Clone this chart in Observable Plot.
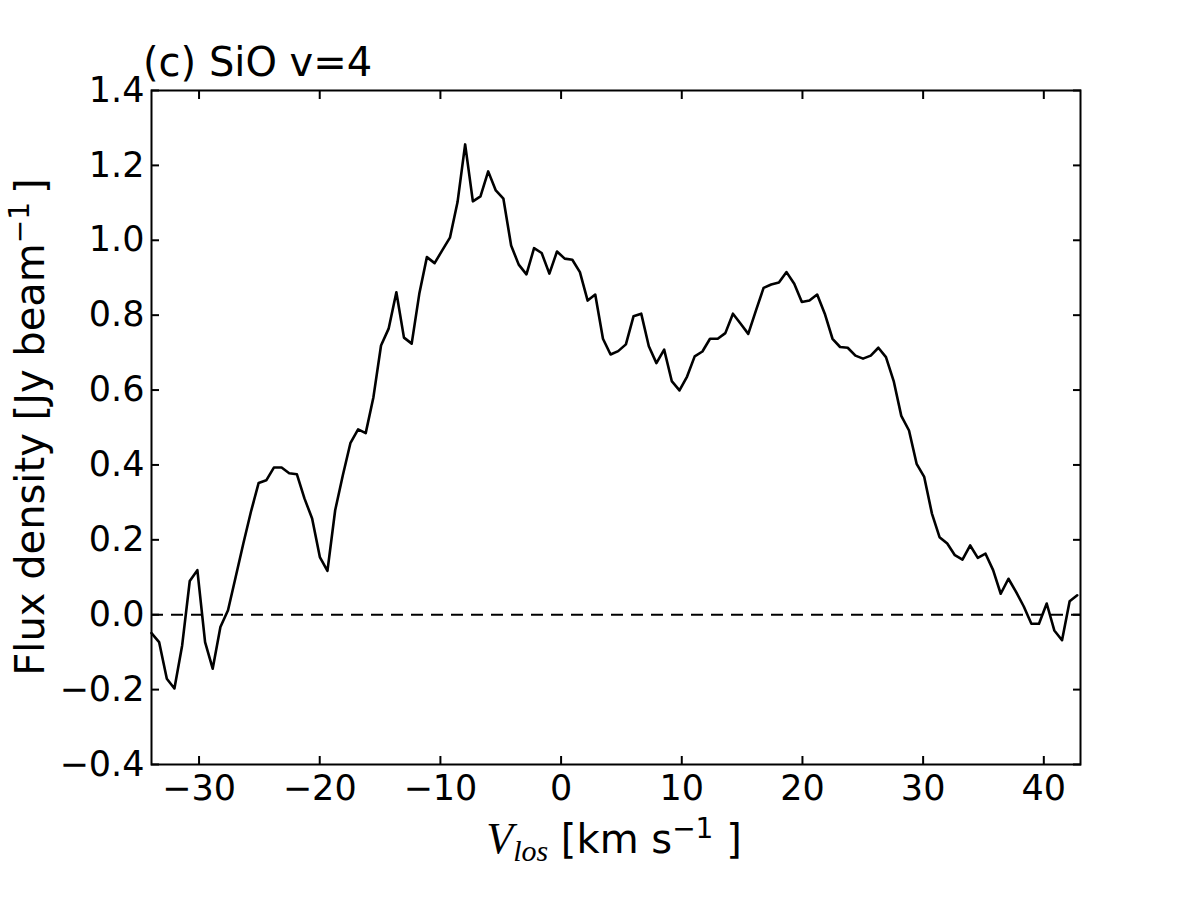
<!DOCTYPE html>
<html>
<head>
<meta charset="utf-8">
<script src="https://cdn.jsdelivr.net/npm/d3@7"></script>
<script src="https://cdn.jsdelivr.net/npm/@observablehq/plot@0.6"></script>
<style>
  body { margin: 0; background: #fff; }
  svg text { white-space: pre; }
</style>
</head>
<body>
<div id="chart"></div>
<script>
// Spectrum of SiO v=4: line-of-sight velocity channels (km/s) and flux density (Jy/beam)
const velocity = [
  -33.94, -33.31, -32.67, -32.04, -31.40, -30.77, -30.14, -29.50, -28.87, -28.23,
  -27.60, -26.97, -26.33, -25.70, -25.06, -24.43, -23.80, -23.16, -22.53, -21.89,
  -21.26, -20.63, -19.99, -19.36, -18.72, -18.09, -17.46, -16.82, -16.19, -15.55,
  -14.92, -14.29, -13.65, -13.02, -12.38, -11.75, -11.12, -10.48, -9.85, -9.21,
  -8.58, -7.95, -7.31, -6.68, -6.04, -5.41, -4.78, -4.14, -3.51, -2.87,
  -2.24, -1.61, -0.97, -0.34, 0.30, 0.93, 1.56, 2.20, 2.83, 3.47,
  4.10, 4.73, 5.37, 6.00, 6.64, 7.27, 7.90, 8.54, 9.17, 9.81,
  10.44, 11.07, 11.71, 12.34, 12.98, 13.61, 14.24, 14.88, 15.51, 16.15,
  16.78, 17.41, 18.05, 18.68, 19.32, 19.95, 20.58, 21.22, 21.85, 22.49,
  23.12, 23.75, 24.39, 25.02, 25.66, 26.29, 26.92, 27.56, 28.19, 28.83,
  29.46, 30.09, 30.73, 31.36, 32.00, 32.63, 33.26, 33.90, 34.53, 35.17,
  35.80, 36.43, 37.07, 37.70, 38.34, 38.97, 39.60, 40.24, 40.87, 41.51,
  42.14, 42.77
];
const flux = [
  -0.049, -0.073, -0.171, -0.197, -0.082, 0.090, 0.119, -0.073, -0.144, -0.033,
  0.012, 0.100, 0.190, 0.275, 0.352, 0.359, 0.393, 0.393, 0.378, 0.375,
  0.310, 0.257, 0.154, 0.117, 0.279, 0.372, 0.458, 0.495, 0.485, 0.581,
  0.719, 0.764, 0.861, 0.740, 0.724, 0.857, 0.955, 0.939, 0.973, 1.007,
  1.102, 1.256, 1.104, 1.117, 1.184, 1.133, 1.111, 0.986, 0.935, 0.909,
  0.979, 0.966, 0.911, 0.970, 0.951, 0.948, 0.915, 0.839, 0.855, 0.737,
  0.695, 0.704, 0.722, 0.797, 0.804, 0.717, 0.672, 0.708, 0.624, 0.599,
  0.636, 0.690, 0.703, 0.737, 0.737, 0.752, 0.804, 0.777, 0.750, 0.813,
  0.873, 0.882, 0.887, 0.915, 0.884, 0.835, 0.839, 0.855, 0.804, 0.737,
  0.715, 0.713, 0.692, 0.684, 0.692, 0.713, 0.688, 0.624, 0.531, 0.492,
  0.403, 0.368, 0.270, 0.207, 0.190, 0.159, 0.147, 0.185, 0.152, 0.163,
  0.119, 0.056, 0.096, 0.061, 0.022, -0.024, -0.024, 0.030, -0.042, -0.068,
  0.036, 0.052
];
const xTicks = [-30, -20, -10, 0, 10, 20, 30, 40];
const yTicks = [-0.4, -0.2, 0.0, 0.2, 0.4, 0.6, 0.8, 1.0, 1.2, 1.4];
const xDomain = [-33.94, 43.04];
const yDomain = [-0.4, 1.4];
const titleText = "(c) SiO v=4";

const data = velocity.map((v, i) => ({v, f: flux[i]}));
const fmtX = d3.format("d");
const fmtY = d3.format(".1f");
const blank = () => "";

const plot = Plot.plot({
  width: 1200,
  height: 900,
  marginLeft: 151,
  marginRight: 120,
  marginTop: 90,
  marginBottom: 136,
  style: {fontFamily: "DejaVu Sans", fontSize: "35px", background: "#fff", color: "#000", overflow: "visible"},
  x: {domain: xDomain},
  y: {domain: yDomain},
  marks: [
    Plot.ruleY([0], {stroke: "#000", strokeWidth: 2, strokeDasharray: "12,8"}),
    Plot.line(data, {x: "v", y: "f", stroke: "#000", strokeWidth: 2.6}),
    // inward tick marks on all four sides
    Plot.axisX(xTicks, {anchor: "bottom", tickSize: -8, tickFormat: blank, label: null, strokeWidth: 2}),
    Plot.axisX(xTicks, {anchor: "top", tickSize: -8, tickFormat: blank, label: null, strokeWidth: 2}),
    Plot.axisY(yTicks, {anchor: "left", tickSize: -8, tickFormat: blank, label: null, strokeWidth: 2}),
    Plot.axisY(yTicks, {anchor: "right", tickSize: -8, tickFormat: blank, label: null, strokeWidth: 2}),
    // tick labels
    Plot.axisX(xTicks, {anchor: "bottom", tickSize: 0, tickPadding: 11, tickFormat: fmtX, label: null, fontSize: 35}),
    Plot.axisY(yTicks, {anchor: "left", tickSize: 0, tickPadding: 7, tickFormat: fmtY, label: null, fontSize: 35}),
    Plot.frame({stroke: "#000", strokeWidth: 2})
  ]
});

const svg = d3.select(plot);

// panel title
svg.append("text")
  .attr("x", 143).attr("y", 76)
  .attr("text-anchor", "start")
  .attr("font-size", 40).attr("fill", "#000")
  .text(titleText);

// x-axis label: V_los [km s^-1 ]
const xl = svg.append("text")
  .attr("x", 614).attr("y", 853)
  .attr("text-anchor", "middle")
  .attr("font-size", 40).attr("fill", "#000");
xl.append("tspan").attr("font-family", "Liberation Serif").attr("font-style", "italic").attr("font-size", 44).text("V");
xl.append("tspan").attr("font-family", "Liberation Serif").attr("font-style", "italic").attr("font-size", 30).attr("dy", 8).text("los");
xl.append("tspan").attr("dy", -8).text(" [km s");
xl.append("tspan").attr("font-size", 28).attr("dy", -15).text("\u22121");
xl.append("tspan").attr("dy", 15).text(" ]");

// y-axis label: Flux density [Jy beam^-1 ]
const yl = svg.append("text")
  .attr("transform", "translate(44,427) rotate(-90)")
  .attr("text-anchor", "middle")
  .attr("font-size", 40).attr("fill", "#000");
yl.append("tspan").text("Flux density [Jy beam");
yl.append("tspan").attr("font-size", 28).attr("dy", -15).text("\u22121");
yl.append("tspan").attr("dy", 15).text("\u2009]");

document.getElementById("chart").appendChild(plot);
</script>
</body>
</html>
